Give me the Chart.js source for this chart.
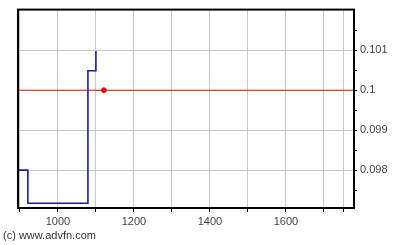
<!DOCTYPE html>
<html>
<head>
<meta charset="utf-8">
<script src="https://cdn.jsdelivr.net/npm/chart.js@4"></script>
<style>
  body { margin: 0; background: #fff; }
  #wrap { position: relative; width: 396px; height: 245px; }
  #footer { position: absolute; left: 3px; top: 229px; font: 11px "Liberation Sans", Arial, sans-serif; color: #333; }
</style>
</head>
<body>
<div id="wrap">
  <canvas id="myChart" width="396" height="245"></canvas>
  <div id="footer">(c) www.advfn.com</div>
</div>
<script>
// price series (step line)
const priceX = [895, 895, 921, 921, 1079, 1079, 1100, 1100];
const priceY = [0.1025, 0.098, 0.098, 0.09717, 0.09717, 0.10049, 0.10049, 0.10098];

// reference level + marker
const refLevel = 0.1;
const refRange = [895, 1779];
const markerPoint = { x: 1121, y: 0.1 };

const xTicks = [900, 1000, 1100, 1200, 1300, 1400, 1500, 1600, 1700, 1752];
const xLabels = [1000, 1200, 1400, 1600];
const yTicks = [0.0975, 0.098, 0.0985, 0.099, 0.0995, 0.1, 0.1005, 0.101, 0.1015];
const yLabels = [0.098, 0.099, 0.1, 0.101];

const isLabel = (list, v) => list.some(l => Math.abs(l - v) < 1e-9);

const frame = {
  id: 'frame',
  afterDraw(chart) {
    const { ctx, chartArea: a } = chart;
    ctx.save();
    ctx.strokeStyle = '#000';
    ctx.lineWidth = 2;
    ctx.strokeRect(a.left, a.top, a.right - a.left, a.bottom - a.top);
    ctx.restore();
  }
};

new Chart(document.getElementById('myChart'), {
  type: 'line',
  data: {
    datasets: [
      {
        data: priceX.map((x, i) => ({ x: x, y: priceY[i] })),
        borderColor: '#1c1c9c',
        borderWidth: 1.6,
        pointRadius: 0,
        tension: 0
      },
      {
        data: refRange.map(x => ({ x: x, y: refLevel })),
        borderColor: '#e01818',
        borderWidth: 1,
        pointRadius: 0
      },
      {
        data: [markerPoint],
        borderColor: '#e01818',
        backgroundColor: '#e01818',
        pointRadius: 2.5,
        showLine: false
      }
    ]
  },
  options: {
    responsive: false,
    animation: false,
    layout: { padding: { left: 18, top: 5, bottom: 15, right: 0 } },
    plugins: { legend: { display: false }, tooltip: { enabled: false } },
    scales: {
      x: {
        type: 'linear',
        min: 895,
        max: 1779,
        afterBuildTicks: s => { s.ticks = xTicks.map(v => ({ value: v })); },
        afterFit: s => { s.height = 22; },
        grid: { color: '#c8c8c8', tickLength: 4, tickColor: '#000' },
        border: { display: false },
        ticks: {
          autoSkip: false,
          maxRotation: 0,
          padding: 3,
          color: '#444',
          font: { family: 'Liberation Sans', size: 11 },
          callback: v => isLabel(xLabels, v) ? String(v) : ''
        }
      },
      y: {
        position: 'right',
        min: 0.09705,
        max: 0.10202,
        afterBuildTicks: s => { s.ticks = yTicks.map(v => ({ value: v })); },
        afterFit: s => { s.width = 42; },
        grid: {
          color: c => isLabel(yLabels, c.tick.value) ? '#c8c8c8' : 'rgba(0,0,0,0)',
          tickLength: 3,
          tickColor: '#000'
        },
        border: { display: false },
        ticks: {
          autoSkip: false,
          padding: 3,
          color: '#444',
          font: { family: 'Liberation Sans', size: 11 },
          callback: v => isLabel(yLabels, v) ? String(Math.round(v * 1000) / 1000) : ''
        }
      }
    }
  },
  plugins: [frame]
});
</script>
</body>
</html>
